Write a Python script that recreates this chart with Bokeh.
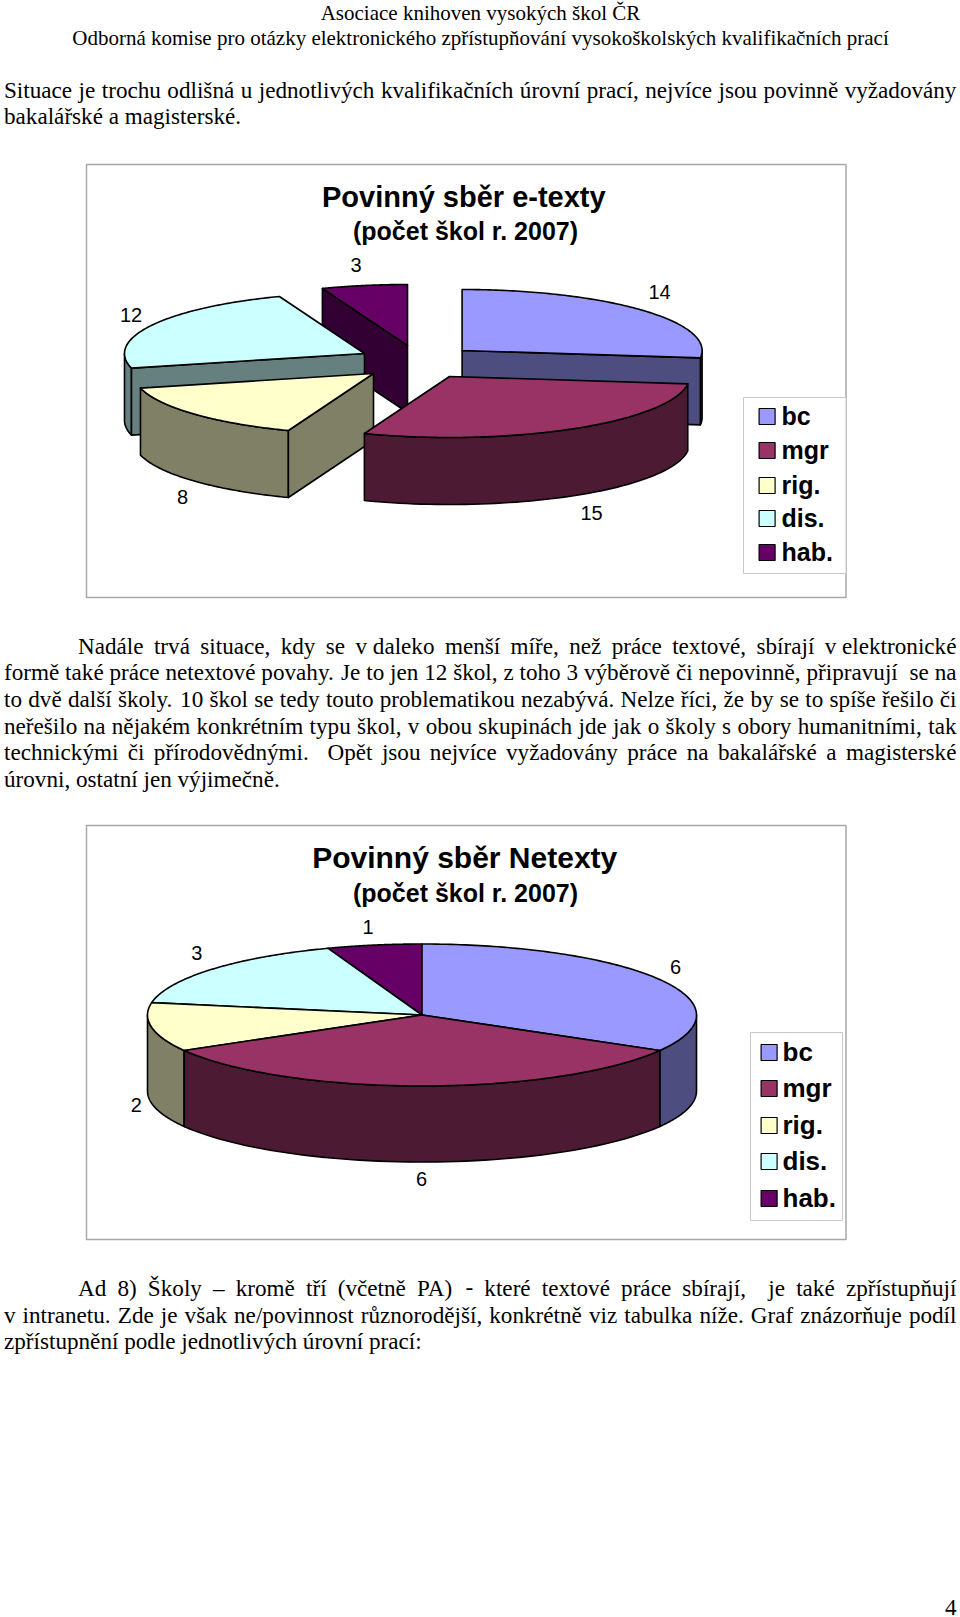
import unicodedata
import numpy as np
from bokeh.plotting import figure
from bokeh.models import ColumnDataSource, Range1d
from bokeh.core.properties import value
from bokeh.embed import file_html
from bokeh.resources import INLINE

# ---------- data ----------
categories = ["bc", "mgr", "rig.", "dis.", "hab."]
etexty_values = [14, 15, 8, 12, 3]
netexty_values = [6, 6, 2, 3, 1]
title_etexty = "Povinný sběr e-texty"
title_netexty = "Povinný sběr Netexty"
subtitle = "(počet škol r. 2007)"

header_lines = ["Asociace knihoven vysokých škol ČR",
                "Odborná komise pro otázky elektronického zpřístupňování vysokoškolských kvalifikačních prací"]
para_1 = ["Situace je trochu odlišná u jednotlivých kvalifikačních úrovní prací, nejvíce jsou povinně vyžadovány",
          "bakalářské a magisterské."]
para_2 = ["Nadále trvá situace, kdy se v\u00a0daleko menší míře, než práce textové, sbírají v\u00a0elektronické",
          "formě také práce netextové povahy. Je to jen 12 škol, z toho 3 výběrově či nepovinně, připravují  se na",
          "to dvě další školy. 10 škol se tedy touto problematikou nezabývá. Nelze říci, že by se to spíše řešilo či",
          "neřešilo na nějakém konkrétním typu škol, v obou skupinách jde jak o školy s obory humanitními, tak",
          "technickými či přírodovědnými.  Opět jsou nejvíce vyžadovány práce na bakalářské a magisterské",
          "úrovni, ostatní jen výjimečně."]
para_3 = ["Ad 8) Školy – kromě tří (včetně PA) - které textové práce sbírají,  je také zpřístupňují",
          "v intranetu. Zde je však ne/povinnost různorodější, konkrétně viz tabulka níže. Graf znázorňuje podíl",
          "zpřístupnění podle jednotlivých úrovní prací:"]
page_number = "4"

# ---------- styles / layout ----------
top_colors = ["#9999ff", "#993366", "#ffffcc", "#ccffff", "#660066"]
side_colors = ["#4d4d80", "#4d1a33", "#808066", "#668080", "#330033"]
SERIF = "Liberation Serif"
SANS = "Liberation Sans"
BODY = 23.15
HEAD = 21.0
LEFT, RIGHT, INDENT = 3.5, 956.0, 77.5
BASE_FIX = -8.3

AFM = dict(zip("abcdefghijklmnopqrstuvwxyz",
               [444,500,444,500,444,333,500,500,278,278,500,278,778,500,500,500,500,333,389,278,500,500,722,500,500,444]))
AFM.update(zip("ABCDEFGHIJKLMNOPQRSTUVWXYZ",
               [722,667,667,722,611,556,722,722,333,389,722,611,889,722,722,556,722,667,556,611,722,722,944,722,722,611]))
AFM.update({c: 500 for c in "0123456789–"})
AFM.update({" ": 250, "\u00a0": 250, ".": 250, ",": 250, "-": 333, "(": 333, ")": 333, "/": 278, ":": 278})


def em_width(s):
    tot = 0
    for c in s:
        b = unicodedata.normalize("NFD", c)[0]
        tot += AFM.get(b, 500)
    return tot / 1000.0


p = figure(width=960, height=1617, x_range=Range1d(0, 960), y_range=Range1d(1617, 0),
           output_backend="svg", toolbar_location=None, min_border=0,
           outline_line_color=None, background_fill_color="white", border_fill_color="white")
p.axis.visible = False
p.grid.visible = False


def text(x, y, s, size, font=SERIF, style="normal", align="left", base="alphabetic", color="#000000"):
    p.text(x=[x], y=[y], text=[s], text_font=value(font), text_font_size=f"{size}px",
           text_font_style=style, text_align=align, text_baseline=base, text_color=color)


def paragraph(lines, baselines, first_indent):
    for i, (line, y) in enumerate(zip(lines, baselines)):
        left = first_indent if (i == 0 and first_indent) else LEFT
        if i == len(lines) - 1:
            text(left, y, line, BODY)
            continue
        tokens = line.split(" ")
        nat = em_width(line) * BODY
        extra = (RIGHT - left - nat) / (len(tokens) - 1)
        x = left
        xs, ws = [], []
        for t in tokens:
            if t:
                xs.append(x)
                ws.append(t)
            x += em_width(t) * BODY + 0.25 * BODY + extra
        p.text(x=xs, y=[y] * len(xs), text=ws, text_font=value(SERIF), text_font_size=f"{BODY}px",
               text_align="left", text_baseline="alphabetic", text_color="#000000")


def pie(values, centers, a, b, depth, order):
    total = sum(values)
    edges = np.concatenate([[0], np.cumsum(values)]) / total * 360.0

    def rim(i, th, dz=0.0):
        cx, cy = centers[i]
        r = np.radians(th)
        return cx + a * np.sin(r), cy - b * np.cos(r) + dz

    xs, ys, fills = [], [], []
    for i in order:
        t1, t2 = edges[i], edges[i + 1]
        cx, cy = centers[i]
        # outer wall, the part turned to the viewer
        lo, hi = max(t1, 90.0), min(t2, 270.0)
        if hi > lo:
            th = np.linspace(lo, hi, 60)
            xt, yt = rim(i, th)
            xb, yb = rim(i, th[::-1], depth)
            xs.append(np.concatenate([xt, xb]).tolist())
            ys.append(np.concatenate([yt, yb]).tolist())
            fills.append(side_colors[i])
        # cut faces turned to the viewer
        cuts = []
        if 180 < t1 < 360:
            cuts.append(t1)
        if 0 < t2 < 180:
            cuts.append(t2)
        for t in cuts:
            xr, yr = rim(i, t)
            xs.append([cx, xr, xr, cx])
            ys.append([cy, yr, yr + depth, cy + depth])
            fills.append(side_colors[i])
        # top
        th = np.linspace(t1, t2, 120)
        xt, yt = rim(i, th)
        xs.append([cx] + xt.tolist())
        ys.append([cy] + yt.tolist())
        fills.append(top_colors[i])
    src = ColumnDataSource(dict(xs=xs, ys=ys, fill=fills))
    p.patches("xs", "ys", source=src, fill_color="fill", line_color="#000000", line_width=1.6,
              line_join="round")


def frame(x0, y0, x1, y1, color, width):
    p.quad(left=[x0], right=[x1], top=[y0], bottom=[y1], fill_color="white",
           line_color=color, line_width=width)


def legend(box, sw_x, sw_w, sw_h, text_x, rows, size):
    frame(*box, "#c8c8c8", 1)
    for i, y in enumerate(rows):
        p.quad(left=[sw_x], right=[sw_x + sw_w], top=[y - sw_h / 2], bottom=[y + sw_h / 2],
               fill_color=top_colors[i], line_color="#000000", line_width=1.2)
        text(text_x, y - 1, categories[i], size, font=SANS, style="bold", base="middle")


# ---------- page text ----------
text(480, 20.8 + BASE_FIX, header_lines[0], HEAD, align="center")
text(480, 45.5 + BASE_FIX, header_lines[1], HEAD, align="center")
paragraph(para_1, [97.5 + BASE_FIX, 124 + BASE_FIX], 0)
paragraph(para_2, [y + BASE_FIX for y in [653.3, 680, 706.8, 733.3, 760, 787]], INDENT)
paragraph(para_3, [y + BASE_FIX for y in [1295.7, 1322.4, 1349]], INDENT)
text(956, 1615 + BASE_FIX, page_number, BODY, align="right")

# ---------- chart 1 ----------
frame(86, 164, 845.5, 597, "#a8a8a8", 1.5)
pie(etexty_values,
    [(461.6, 350), (449, 376), (373, 373), (364, 353), (407, 345)],
    240, 61, 67, [4, 0, 3, 2, 1])
text(463.3, 196, title_etexty, 29, font=SANS, style="bold", align="center", base="middle")
text(465, 230, subtitle, 25, font=SANS, style="bold", align="center", base="middle")
for v, (lx, ly) in zip(etexty_values, [(659, 291), (591, 512), (182, 496), (130.5, 314), (355.6, 264)]):
    text(lx, ly, str(v), 20, font=SANS, align="center", base="middle")
legend((743, 397, 845.5, 573), 758.6, 16, 16, 781, [416, 450, 485, 518, 552], 25)

# ---------- chart 2 ----------
frame(86, 825, 845.5, 1239, "#a8a8a8", 1.5)
pie(netexty_values, [(421.5, 1014.5)] * 5, 274.5, 71, 76, [4, 3, 0, 2, 1])
text(464.2, 856.5, title_netexty, 30, font=SANS, style="bold", align="center", base="middle")
text(465, 892, subtitle, 25, font=SANS, style="bold", align="center", base="middle")
for v, (lx, ly) in zip(netexty_values, [(675, 966), (421, 1178), (135.7, 1104), (196.4, 952), (367.5, 926)]):
    text(lx, ly, str(v), 20, font=SANS, align="center", base="middle")
legend((750, 1032, 842, 1220), 760.6, 16, 16, 782, [1052, 1088, 1125, 1161, 1198], 26)

open("out.html", "w").write(file_html(p, INLINE))
